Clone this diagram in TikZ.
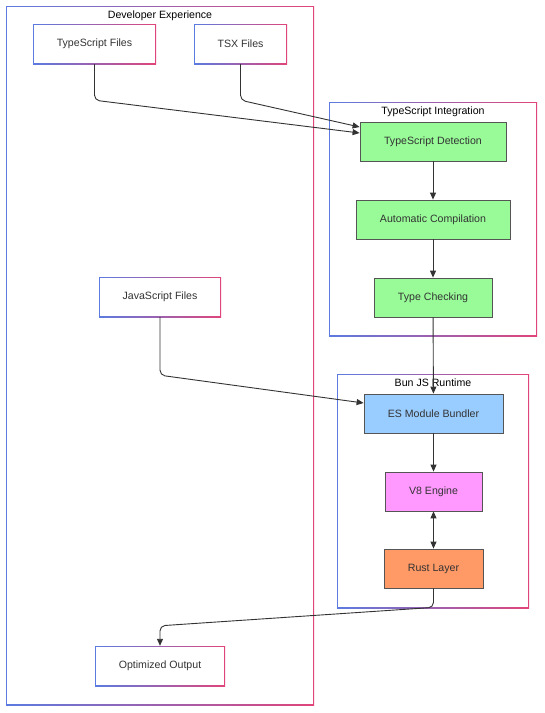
\documentclass[tikz,border=0pt]{standalone}
\usepackage{fontspec}
\newfontfamily\diagfont{Liberation Sans}
\usetikzlibrary{calc, positioning, arrows.meta}
\definecolor{edgeblue}{HTML}{5B7BE0}
\definecolor{edgepink}{HTML}{E0457B}
\definecolor{textgray}{HTML}{333333}
\definecolor{boxgray}{HTML}{555555}
\definecolor{tsgreen}{HTML}{98FB98}
\definecolor{bunblue}{HTML}{99CCFF}
\definecolor{veight}{HTML}{FF99FF}
\definecolor{rustorange}{HTML}{FF9966}
\tikzset{
  gradline/.style={fill=white, path picture={
      \shade[left color=edgeblue, right color=edgepink] (path picture bounding box.south west) rectangle (path picture bounding box.north east);
      \fill[white] ($(path picture bounding box.south west)+(1.1pt,1.1pt)$) rectangle ($(path picture bounding box.north east)-(1.1pt,1.1pt)$);}},
  filebox/.style={gradline, text=textgray, font=\diagfont\fontsize{10.6}{13}\selectfont, inner sep=0pt, minimum height=40},
  stagebox/.style={draw=boxgray, line width=0.8pt, text=textgray, font=\diagfont\fontsize{10.6}{13}\selectfont, inner sep=0pt, minimum height=39},
  clusterbox/.style={gradline, inner sep=0pt},
  clustertitle/.style={anchor=north, inner sep=2pt, yshift=-2.5pt, text=black, font=\diagfont\fontsize{10.6}{13}\selectfont},
  flow/.style={draw=textgray, line width=0.9pt, rounded corners=5pt, -{Triangle[length=7pt,width=6pt]}}
}
\begin{document}
\begin{tikzpicture}[x=1pt,y=-1pt]
        \fill[white] (0,0) rectangle (545,713);
        \useasboundingbox (0,0) rectangle (545,713);
        %clusters
        \node[clusterbox, minimum width=308, minimum height=699] (devexp) at (160,355.5) {};
        \node[clustertitle] (devexptitle) at (devexp.north) {Developer Experience};
        \node[clusterbox, minimum width=208, minimum height=234] (tsint) at (433,219) {};
        \node[clustertitle] (tsinttitle) at (tsint.north) {TypeScript Integration};
        \node[clusterbox, minimum width=192, minimum height=234] (bunrt) at (433,491) {};
        \node[clustertitle] (bunrttitle) at (bunrt.north) {Bun JS Runtime};

        \node[filebox, minimum width=123] (tsfiles) at (94.5,44) {TypeScript Files};
        \node[filebox, minimum width=93] (tsxfiles) at (240.5,44) {TSX Files};
        \node[filebox, minimum width=122] (jsfiles) at (160,297) {JavaScript Files};
        \node[filebox, minimum width=130] (optout) at (160,666) {Optimized Output};

        \node[stagebox, fill=tsgreen, minimum width=146] (tsdetect) at (433,141.5) {TypeScript Detection};
        \node[stagebox, fill=tsgreen, minimum width=154] (autocomp) at (433,219.5) {Automatic Compilation};
        \node[stagebox, fill=tsgreen, minimum width=118] (typecheck) at (433,297.5) {Type Checking};
        \node[stagebox, fill=bunblue, minimum width=139] (bundler) at (433.5,413.5) {ES Module Bundler};
        \node[stagebox, fill=veight, minimum width=97] (veng) at (433.5,491.5) {V8 Engine};
        \node[stagebox, fill=rustorange, minimum width=99] (rustlayer) at (433.5,568.5) {Rust Layer};

        %connectors
        \draw[flow] (tsfiles.south) -- ++(0,36) -- ([yshift=8.5pt]tsdetect.west);
        \draw[flow] (tsxfiles.south) -- ++(0,36) -- ([yshift=14.5pt]tsdetect.west);
        \draw[flow] (tsdetect) -- (autocomp);
        \draw[flow] (autocomp) -- (typecheck);
        \draw[flow] (typecheck) -- (bundler);
        \draw[flow] (jsfiles.south) -- ++(0,58) -- ([yshift=10.5pt]bundler.west);
        \draw[flow] (bundler) -- (veng);
        \draw[flow, {Triangle[length=7pt,width=6pt]}-{Triangle[length=7pt,width=6pt]}] (veng) -- (rustlayer);
        \draw[flow] (rustlayer.south) -- ++(0,19) -- ($(optout.north)+(0,-20)$) -- (optout.north);
\end{tikzpicture}
\end{document}
